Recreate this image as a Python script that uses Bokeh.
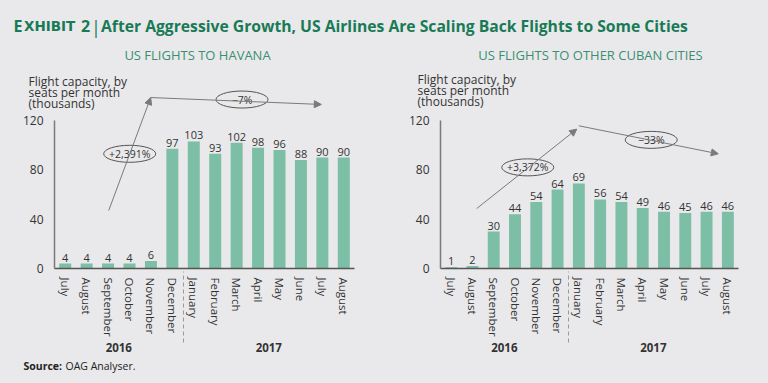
from bokeh.plotting import figure
from bokeh.models import (FactorRange, Range1d, FixedTicker, Label, Arrow, NormalHead,
                          ColumnDataSource)
from bokeh.layouts import column, row
from bokeh.embed import file_html
from bokeh.resources import INLINE
from bokeh.core.properties import value

# ---------------- data ----------------
months = ["July", "August", "September", "October", "November", "December",
          "January", "February", "March", "April", "May", "June", "July", "August"]
years = ["2016"] * 6 + ["2017"] * 8
havana = [4, 4, 4, 4, 6, 97, 103, 93, 102, 98, 96, 88, 90, 90]
other = [1, 2, 30, 44, 54, 64, 69, 56, 54, 49, 46, 45, 46, 46]
y_ticks = [0, 40, 80, 120]

havana_changes = ["+2,391%", "\u22127%"]
other_changes = ["+3,372%", "\u221233%"]

title_text = "After Aggressive Growth, US Airlines Are Scaling Back Flights to Some Cities"
subtitles = ["US FLIGHTS TO HAVANA", "US FLIGHTS TO OTHER CUBAN CITIES"]
ylab_lines = ["Flight capacity, by", "seats per month", "(thousands)"]

# ---------------- style / layout ----------------
BG = "#e9e9eb"
BAR = "#7dbea6"
GREEN = "#197a56"
SUBGREEN = "#3a8f70"
GREY = "#7a7a7a"
TXT = "#333333"
FONT = "Open Sans"

NCAT = len(months)
HEAD_H = 38
CH_H = 345
PXU_Y = 148 / 120           # pixels per thousand seats
ZERO_Y = 268                # page y of the zero line
Y_MAX = (ZERO_Y - HEAD_H) / PXU_Y
Y_MIN = (ZERO_Y - HEAD_H - CH_H) / PXU_Y


def make_chart(vals, fig_left, width, axis_px, cat_w, pad_px, subtitle, sub_x, ylab_x, ylab_y,
               arrows, ellipses, show_source):
    pxu_x = cat_w / NCAT
    frame_left = axis_px - pad_px
    border_left = frame_left - fig_left
    frame_w = cat_w + 2 * pad_px
    border_right = width - border_left - frame_w
    factors = list(zip(years, months))
    xr = FactorRange(*factors, factor_padding=0, group_padding=0, subgroup_padding=0,
                     range_padding=pad_px / pxu_x, range_padding_units="absolute")
    p = figure(x_range=xr, y_range=Range1d(Y_MIN, Y_MAX), width=width, height=CH_H,
               output_backend="svg", toolbar_location=None,
               min_border_left=border_left, min_border_right=border_right,
               min_border_top=0, min_border_bottom=0,
               background_fill_color=BG, border_fill_color=BG, outline_line_color=None)
    p.xgrid.grid_line_color = None
    p.ygrid.grid_line_color = None

    def dx(px):
        return (px - axis_px) / pxu_x

    def dy(py):
        return (ZERO_Y - py) / PXU_Y

    src = ColumnDataSource(dict(x=factors, v=vals, lab=[str(v) for v in vals]))
    p.vbar(x="x", top="v", width=0.56, source=src, fill_color=BAR, line_color=None)
    p.text(x="x", y="v", text="lab", source=src, y_offset=-2, text_align="center",
           text_baseline="bottom", text_font_size="11px", text_color=TXT,
           text_font=value(FONT))

    # axes (kept at the zero lines, inside the frame)
    ya = p.yaxis[0]
    ya.fixed_location = 0
    ya.ticker = FixedTicker(ticks=y_ticks)
    ya.bounds = (0, 120)
    ya.major_tick_line_color = None
    ya.minor_tick_line_color = None
    ya.axis_line_color = GREY
    ya.axis_line_width = 1.5
    ya.major_label_text_font_size = "12px"
    ya.major_label_text_color = TXT
    ya.major_label_text_font = FONT
    ya.major_label_standoff = 5

    xa = p.xaxis[0]
    xa.fixed_location = 0
    xa.bounds = (0, NCAT)
    xa.major_label_orientation = "vertical"
    xa.major_tick_line_color = None
    xa.minor_tick_line_color = None
    xa.axis_line_color = "#555555"
    xa.axis_line_width = 1.5
    xa.major_label_text_font_size = "11.5px"
    xa.major_label_text_color = TXT
    xa.major_label_text_font = FONT
    xa.major_label_standoff = 3
    xa.group_text_font_size = "11.5px"
    xa.group_text_color = TXT
    xa.group_text_font = FONT
    xa.group_text_font_style = "bold"
    xa.separator_line_color = "#9a9a9a"
    xa.separator_line_width = 1
    xa.separator_line_dash = "4 3"

    # growth arrows
    for (x0, y0, x1, y1) in arrows:
        p.add_layout(Arrow(end=NormalHead(size=7, fill_color=GREY, line_color=GREY),
                           x_start=x0, y_start=y0, x_end=x1, y_end=y1,
                           line_color=GREY, line_width=1))
    ex, ey, etxt = ellipses
    esrc = ColumnDataSource(dict(x=ex, y=ey, t=etxt))
    p.ellipse(x="x", y="y", width=52, height=17, width_units="screen", height_units="screen",
              source=esrc, fill_color=BG, line_color="#555555", line_width=1)
    p.text(x="x", y="y", text="t", source=esrc, text_align="center", text_baseline="middle",
           text_font_size="10.5px", text_color=TXT, text_font=value(FONT))

    # surrounding texts
    p.add_layout(Label(x=dx(sub_x), y=dy(54), text=subtitle,
                       text_align="center", text_baseline="middle", text_font_size="13px",
                       text_color=SUBGREEN, text_font=FONT))
    for i, line in enumerate(ylab_lines):
        p.add_layout(Label(x=dx(ylab_x), y=dy(ylab_y + 11 * i), text=line,
                           text_align="left", text_baseline="middle",
                           text_font_size="12px", text_color=TXT, text_font=FONT))
    if show_source:
        p.add_layout(Label(x=dx(23), y=dy(365), text="Source:",
                           text_align="left", text_baseline="middle", text_font_size="10.5px",
                           text_color="#222222", text_font=FONT, text_font_style="bold"))
        p.add_layout(Label(x=dx(65), y=dy(365), text="OAG Analyser.",
                           text_align="left", text_baseline="middle",
                           text_font_size="10.5px", text_color="#222222", text_font=FONT))
    return p


left = make_chart(
    havana, 0, 396, 54, 300, 34, subtitles[0], 197, 28, 81,
    arrows=[(2.53, 47, 4.49, 138.6), (4.49, 138.6, 12.45, 133)],
    ellipses=([3.51, 8.75], [93, 137], havana_changes),
    show_source=True)

right = make_chart(
    other, 396, 372, 440, 298, 30, subtitles[1], 590, 417, 79,
    arrows=[(1.7, 48.6, 6.4, 113), (6.5, 115.7, 13.05, 93)],
    ellipses=([4.1, 9.9], [82, 104.3], other_changes),
    show_source=False)

# header
h = figure(width=768, height=HEAD_H, x_range=Range1d(0, 768), y_range=Range1d(HEAD_H, 0),
           output_backend="svg", toolbar_location=None, min_border=0,
           x_axis_location=None, y_axis_location=None,
           background_fill_color=BG, border_fill_color=BG, outline_line_color=None)
h.grid.visible = False
base = 25
h.add_layout(Label(x=13, y=base, text="E", text_font_size="16px", text_font_style="bold",
                   text_color=GREEN, text_font=FONT, text_baseline="alphabetic"))
h.add_layout(Label(x=23.5, y=base, text="XHIBIT", text_font_size="13.5px",
                   text_font_style="bold", text_color=GREEN, text_font="DejaVu Sans",
                   text_baseline="alphabetic"))
h.add_layout(Label(x=80.5, y=base, text="2", text_font_size="16px", text_font_style="bold",
                   text_color=GREEN, text_font=FONT, text_baseline="alphabetic"))
h.add_layout(Label(x=90.5, y=base + 1, text="|", text_font_size="18px",
                   text_color=GREEN, text_font=FONT, text_baseline="alphabetic"))
h.add_layout(Label(x=100.5, y=base, text=title_text, text_font_size="15.7px",
                   text_font_style="bold", text_color=GREEN, text_font=FONT,
                   text_baseline="alphabetic"))

layout = column(h, row(left, right))
html = file_html(layout, INLINE)
html = html.replace("<head>",
                    "<head><style>html,body{margin:0;padding:0;background:#e9e9eb;}</style>", 1)
open("out.html", "w").write(html)
